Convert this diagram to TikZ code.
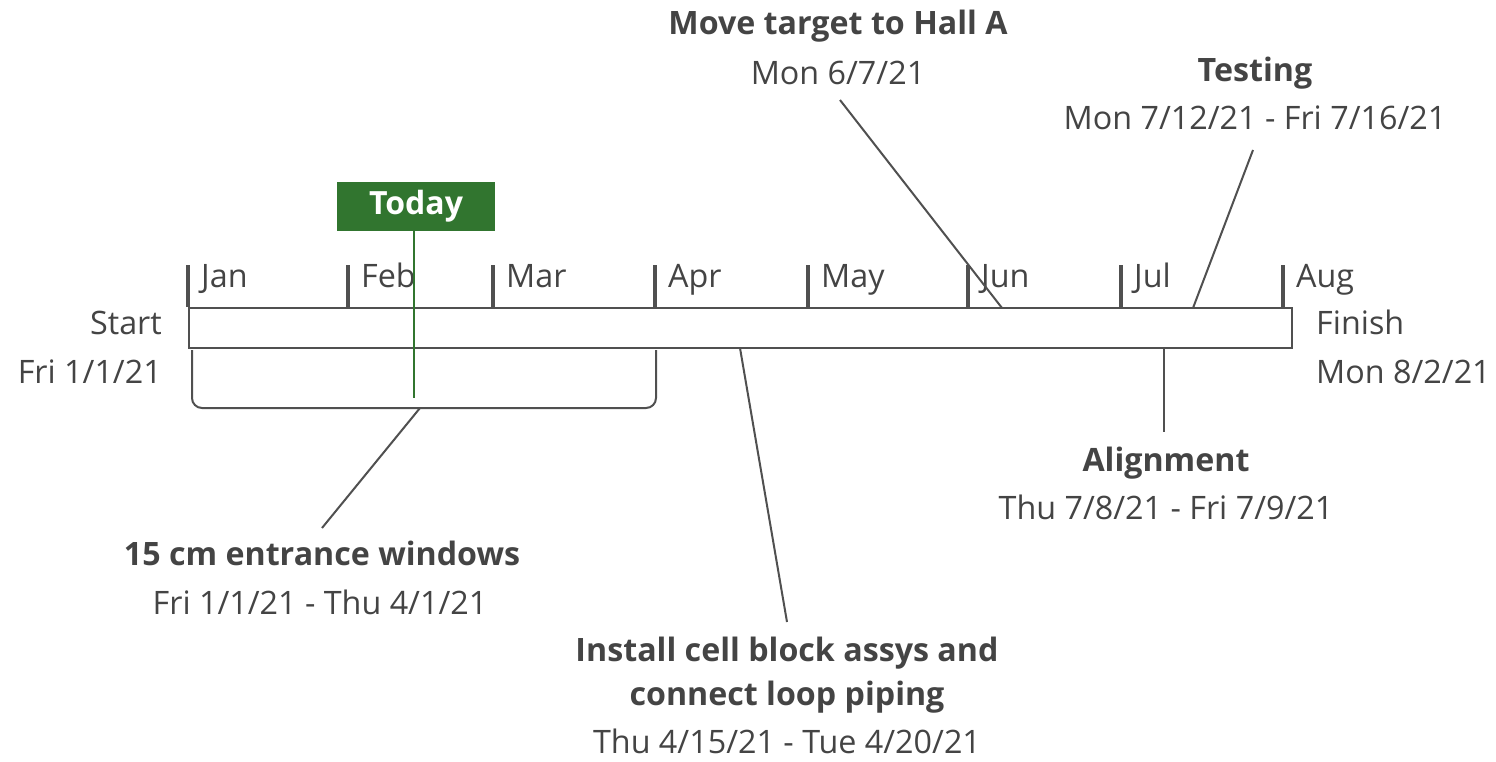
\documentclass[tikz,border=0pt]{standalone}
\usepackage{fontspec}
\setmainfont{Open Sans}
\definecolor{txt}{HTML}{444444}
\definecolor{ln}{HTML}{505050}
\definecolor{tgreen}{HTML}{31752F}
\begin{document}
\begin{tikzpicture}[x=1pt,y=-1pt,
  reg/.style={font=\fontsize{32.3}{36}\selectfont, text=txt, inner sep=0pt},
  bld/.style={font=\fontsize{32.2}{36}\selectfont\bfseries, text=txt, inner sep=0pt},
  mon/.style={reg, anchor=base west},
  tick/.style={draw=ln, line width=3.5pt},
  conn/.style={draw=ln, line width=2pt}]
\useasboundingbox (0,0) rectangle (1496,762);
% bar
\node (bar) [draw=ln, line width=2pt, minimum width=1103pt, minimum height=40pt, inner sep=0pt, anchor=north west, fill=white] at (188,307) {};
% ticks
\foreach \x/\m in {188/Jan,348/Feb,493/Mar,655/Apr,808/May,968/Jun,1121/Jul,1283/Aug}{
  \coordinate (t\m) at (\x,265);
  \draw[tick] (t\m) -- ++(0,42);
  \node (l\m) [mon] at (\x+13,287) {\m};
}
% start / finish
\node (start) [reg, anchor=base east] at (162,334) {Start};
\node (startd) [reg, anchor=base east] at (162,383) {Fri 1/1/21};
\node (fin) [reg, anchor=base west] at (1316,334) {Finish};
\node (find) [reg, anchor=base west] at (1316,383) {Mon 8/2/21};
% today
\node (today) [fill=tgreen, minimum width=158pt, minimum height=49pt, inner sep=0pt, text=white, font=\fontsize{32}{36}\selectfont\bfseries] at (416,206.5) {Today};
\coordinate (todayend) at (414,398);
\draw[draw=tgreen, line width=1.8pt] (today.south -| todayend) -- (todayend);
% bracket
\coordinate (brl) at (192,350);
\coordinate (brr) at (656,350);
\draw[conn, rounded corners=10pt] (brl) -- (192,408) -- (656,408) -- (brr);
% 15 cm entrance windows
\node (ew) [bld, anchor=base] at (322,565) {15 cm entrance windows};
\node (ewd) [reg, anchor=base] at (320,614) {Fri 1/1/21 - Thu 4/1/21};
\coordinate (ewa) at (420,408);
\coordinate (ewb) at (322,528);
\draw[conn] (ewa) -- (ewb);
% install
\node (ic1) [bld, anchor=base] at (787,661) {Install cell block assys and};
\node (ic2) [bld, anchor=base] at (787,705) {connect loop piping};
\node (icd) [reg, anchor=base] at (787,753) {Thu 4/15/21 - Tue 4/20/21};
\coordinate (ica) at (740,348);
\coordinate (icb) at (787,622);
\draw[conn] (ica) -- (icb);
% move target
\node (mt) [bld, anchor=base] at (838,35) {Move target to Hall A};
\node (mtd) [reg, anchor=base] at (838,85) {Mon 6/7/21};
\coordinate (mta) at (840,100);
\coordinate (mtb) at (1002,308);
\draw[conn] (mta) -- (mtb);
% testing
\node (ts) [bld, anchor=base] at (1255,82) {Testing};
\node (tsd) [reg, anchor=base] at (1255,130) {Mon 7/12/21 - Fri 7/16/21};
\coordinate (tsa) at (1253,150);
\coordinate (tsb) at (1193,308);
\draw[conn] (tsa) -- (tsb);
% alignment
\node (al) [bld, anchor=base] at (1166,471) {Alignment};
\node (ald) [reg, anchor=base] at (1166,519) {Thu 7/8/21 - Fri 7/9/21};
\coordinate (ala) at (1164,348);
\coordinate (alb) at (1164,432);
\draw[conn] (ala) -- (alb);
\end{tikzpicture}
\end{document}
